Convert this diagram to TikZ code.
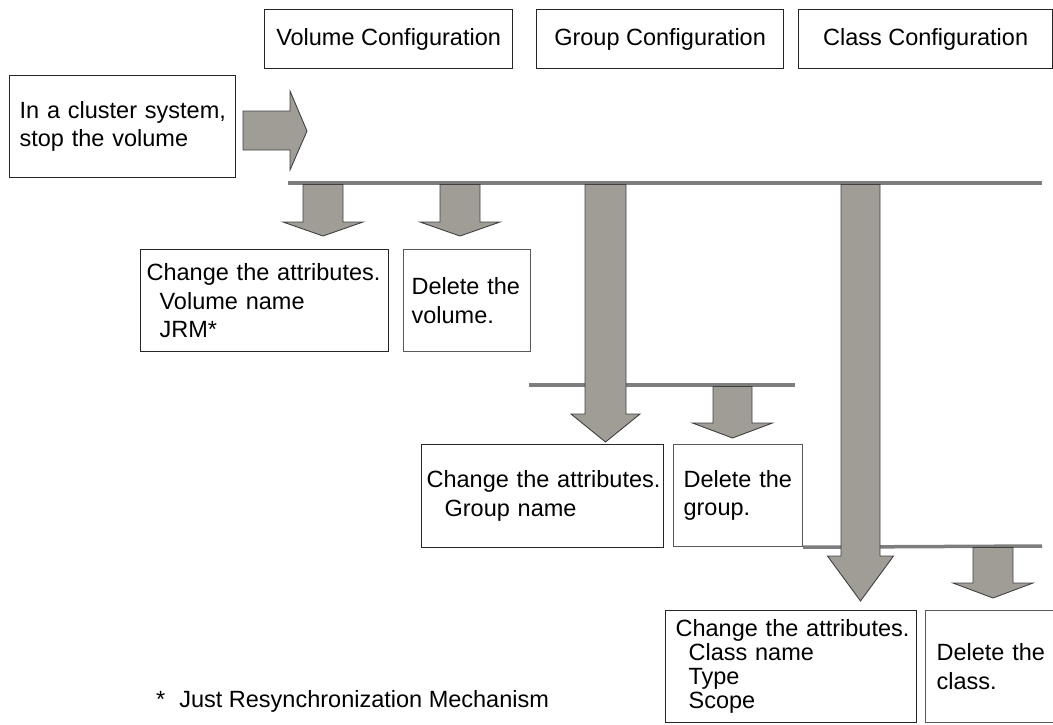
\documentclass[tikz,border=0pt]{standalone}
\usepackage{fontspec}
\setmainfont{Liberation Sans}
\definecolor{arrowgray}{RGB}{160,157,151}
\definecolor{linegray}{RGB}{125,125,125}
\newcommand\DownBlockArrow[6]{% x centre, y top, y shaft bottom, y tip, shaft half width, head half width
  \filldraw[blk] (#1-#5,#2) -- (#1-#5,#3) -- (#1-#6,#3) -- (#1,#4) -- (#1+#6,#3) -- (#1+#5,#3) -- (#1+#5,#2) -- cycle;}
\begin{document}
\begin{tikzpicture}[x=1pt,y=-1pt,
  txt/.style={font=\fontsize{23.5}{28.5}\selectfont},
  box/.style={txt, draw=black!85, line width=1.2pt, anchor=north west, inner ysep=0pt},
  leftbox/.style={box, align=left},
  delbox/.style={leftbox, draw=black!65},
  headbox/.style={box, align=center},
  hline/.style={draw=linegray, line width=3.5pt},
  blk/.style={fill=arrowgray, draw=black!75, line width=0.9pt, line join=miter},
]
\useasboundingbox (0,0) rectangle (1053,724);

% headers
\node[headbox, minimum width=248pt, minimum height=59pt] (hv) at (264,9) {Volume Configuration};
\node[headbox, minimum width=247pt, minimum height=59pt] (hg) at (536,9) {Group Configuration};
\node[headbox, minimum width=254pt, minimum height=59pt] (hc) at (798,9) {Class Configuration};

% start
\node[leftbox, minimum height=102pt, text width=206pt, inner xsep=10pt] (start) at (9,75)
  {\mbox{In a cluster system,}\\stop the volume};

% volume
\node[leftbox, minimum height=102pt, text width=236pt, inner xsep=6pt] (vchg) at (140,249)
  {\mbox{Change the attributes.}\\\hspace*{13pt}Volume name\\\hspace*{13pt}JRM*};
\node[delbox, minimum height=102pt, text width=111pt, inner xsep=8pt] (vdel) at (403,249)
  {\mbox{Delete the}\\volume.};

% group
\node[leftbox, minimum height=103pt, text width=232pt, inner xsep=5pt] (gchg) at (421,444)
  {\mbox{Change the attributes.}\\\hspace*{18pt}Group name};
\node[delbox, minimum height=102pt, text width=109pt, inner xsep=10pt] (gdel) at (673,444)
  {\mbox{Delete the}\\group.};

% class
\node[leftbox, minimum height=112pt, text width=231pt, inner xsep=10pt,
      font=\fontsize{23.5}{24}\selectfont] (cchg) at (665,610)
  {\mbox{Change the attributes.}\\\hspace*{13pt}Class name\\\hspace*{13pt}Type\\\hspace*{13pt}Scope};
\node[delbox, minimum height=112pt, text width=109pt, inner xsep=11pt] (cdel) at (925,610)
  {\mbox{Delete the}\\class.};

% footnote
\node[txt, anchor=base west, inner sep=0pt] (fn) at (156,707)
  {*\hspace{14pt}Just Resynchronization Mechanism};

% bars
\coordinate (mainL) at (288,183);
\coordinate (mainR) at (1042,183);
\coordinate (gbarL) at (529,385);
\coordinate (gbarR) at (795,385);
\coordinate (cbarR) at (1042,546);
\draw[hline] (mainL) -- (mainR);
\draw[hline] (gbarL) -- (gbarR);
\draw[hline] (gdel.south east) -- (cbarR);

% right arrow from start box
\filldraw[blk] (243,111) -- (290,111) -- (290,91) -- (307,131) -- (290,170) -- (290,150) -- (243,150) -- cycle;

% down arrows
\DownBlockArrow{323}{184.5}{222}{236}{20}{40}
\DownBlockArrow{460}{184.5}{222}{236}{20}{40}
\DownBlockArrow{605.5}{184.5}{414}{442}{20.5}{34.5}
\DownBlockArrow{732.5}{386.5}{423}{438}{19.5}{40}
\DownBlockArrow{860.5}{184.5}{556}{601}{19.5}{33}
\DownBlockArrow{993}{547.5}{583}{598}{20}{40}
\end{tikzpicture}
\end{document}
